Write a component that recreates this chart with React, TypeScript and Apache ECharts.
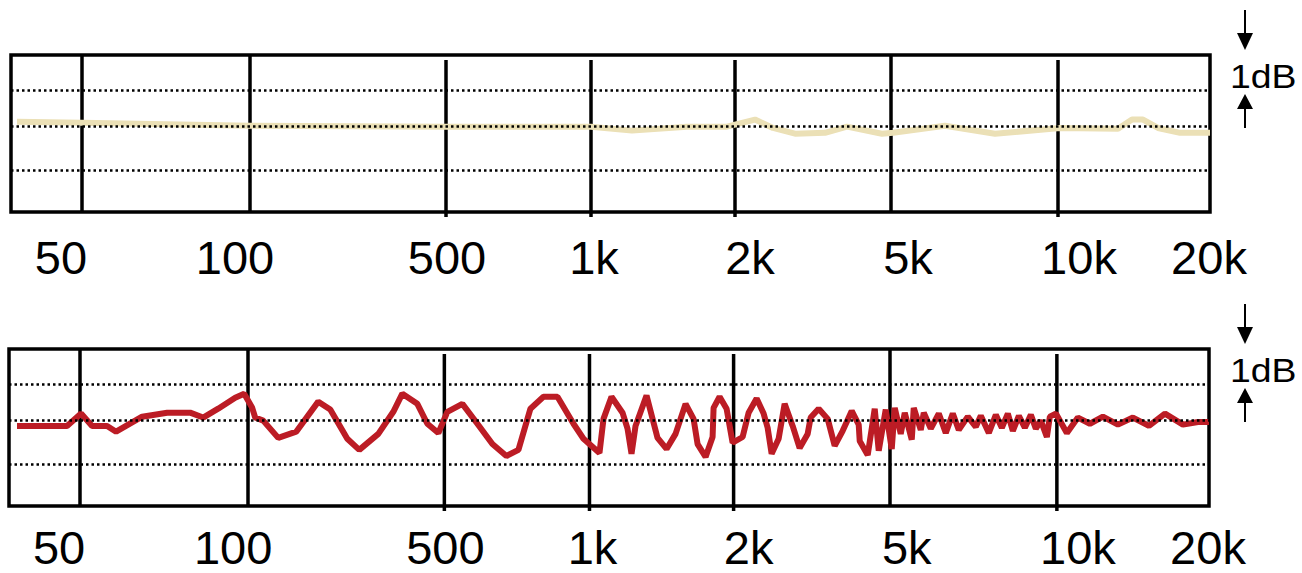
import React, { useEffect, useRef } from "react";
import * as echarts from "echarts";

// Frequency tick labels and their places on the (non-logarithmic) display scale
const labelText = ["50", "100", "500", "1k", "2k", "5k", "10k", "20k"];
const labelPos = [50, 224, 436, 583, 739, 897, 1068, 1198];
// Vertical grid lines (50 … 10k) on the same display scale
const gridPos = [71, 239, 435, 580, 724, 880, 1047];
const gridDropped = [false, false, true, true, true, false, true];
// Horizontal dotted reference levels (dB)
const levelLines = [0.8, 0, -1];

// Upper trace (beige): display position, level in dB
const topPos = [6, 71, 239, 435, 580, 621, 676, 716, 744, 762, 784, 814, 836, 871, 882, 934, 984, 1049, 1107, 1121, 1132, 1147, 1169, 1199];
const topDb = [0.09, 0.07, 0, -0.02, -0.02, -0.11, -0.02, -0.02, 0.14, -0.05, -0.18, -0.16, -0.02, -0.18, -0.16, 0, -0.18, -0.05, -0.07, 0.14, 0.14, -0.05, -0.16, -0.16];

// Lower trace (red): display position, level in dB
const botPos = [8, 58, 72, 83, 98, 107, 133, 158, 181, 194, 209, 226, 235, 243, 246, 254, 269, 287, 309, 321, 338, 350, 369, 384, 393, 408, 418, 429, 438, 453, 468, 483, 497, 509, 521, 534, 548, 564, 574, 590, 594, 602, 613, 618, 622, 626, 637, 641, 648, 657, 666, 676, 684, 688, 696, 703, 704, 710, 717, 723, 733, 739, 747, 754, 758, 762, 769, 775, 783, 790, 798, 801, 809, 818, 825, 833, 842, 849, 850, 858, 865, 869, 876, 882, 885, 891, 895, 902, 904, 911, 914, 921, 929, 936, 943, 949, 958, 966, 971, 979, 986, 992, 998, 1003, 1009, 1015, 1021, 1026, 1031, 1037, 1040, 1046, 1057, 1068, 1080, 1093, 1108, 1123, 1139, 1155, 1173, 1188, 1199];
const botDb = [-0.14, -0.14, 0.14, -0.14, -0.14, -0.27, 0.07, 0.16, 0.16, 0.05, 0.25, 0.5, 0.59, 0.27, 0.05, -0.02, -0.41, -0.27, 0.41, 0.23, -0.43, -0.68, -0.32, 0.18, 0.59, 0.36, -0.09, -0.3, 0.18, 0.36, -0.09, -0.55, -0.82, -0.68, 0.25, 0.52, 0.52, -0.09, -0.43, -0.75, 0.02, 0.52, 0.16, -0.2, -0.77, -0.14, 0.55, 0.2, -0.41, -0.66, -0.32, 0.36, 0.02, -0.55, -0.84, -0.39, 0.27, 0.52, 0.25, -0.52, -0.39, 0.16, 0.48, 0.14, -0.18, -0.77, -0.43, 0.36, -0.14, -0.64, -0.32, 0.05, 0.25, 0.02, -0.59, -0.25, 0.2, -0.11, -0.48, -0.8, 0.25, -0.7, 0.23, -0.66, 0.27, -0.32, 0.16, -0.45, 0.27, -0.23, 0.16, -0.2, 0.14, -0.3, 0.14, -0.23, 0.07, -0.16, 0.09, -0.3, 0.11, -0.18, 0.14, -0.25, 0.09, -0.18, 0.11, -0.2, -0.02, -0.39, 0.07, 0.14, -0.3, 0.05, -0.09, 0.07, -0.11, 0.05, -0.14, 0.14, -0.11, -0.05, -0.05];

const Y_MIN = -1.95;
const Y_MAX = 1.6;
const X_MAX = 1199;
const DROP = 5; // some grid lines sit a few pixels lower than the frame
const FONT = "'Liberation Sans', Arial, Helvetica, sans-serif";

function zip(xs: number[], ys: number[]) {
  return xs.map((x, i) => [x, ys[i]]);
}

function panel(idx: number, color: string, data: number[][]) {
  return [
    {
      type: "line",
      xAxisIndex: idx,
      yAxisIndex: idx,
      data: [],
      silent: true,
      clip: false,
      markLine: {
        z: 1,
        silent: true,
        symbol: ["none", "none"],
        label: { show: false },
        lineStyle: { color: "#000", width: 3.5, type: "solid" },
        emphasis: { disabled: true },
        data: gridPos.filter((_, i) => !gridDropped[i]).map((p) => ({ xAxis: p })),
      },
    },
    {
      type: "line",
      xAxisIndex: idx,
      yAxisIndex: idx,
      data,
      z: 3,
      symbol: "none",
      showSymbol: false,
      silent: true,
      clip: false,
      lineStyle: { color, width: 6 },
      markLine: {
        z: 5,
        silent: true,
        symbol: ["none", "none"],
        label: { show: false },
        lineStyle: { color: "#000", width: 2.5, type: [2.5, 3] },
        emphasis: { disabled: true },
        data: levelLines.map((v) => ({ yAxis: v })),
      },
    },
  ];
}

function xAxis(idx: number, margin: number) {
  return {
    type: "value",
    gridIndex: idx,
    min: 0,
    max: X_MAX,
    axisLine: { show: false },
    axisTick: { show: false },
    splitLine: { show: false },
    axisLabel: {
      customValues: labelPos,
      formatter: (v: number) => {
        const i = labelPos.indexOf(Number(v));
        return i >= 0 ? labelText[i] : "";
      },
      fontFamily: FONT,
      fontSize: 47,
      lineHeight: 40,
      color: "#000",
      margin,
    },
  };
}

function yAxis(idx: number) {
  return {
    type: "value",
    gridIndex: idx,
    min: Y_MIN,
    max: Y_MAX,
    axisLine: { show: false },
    axisTick: { show: false },
    splitLine: { show: false },
    axisLabel: { show: false },
  };
}

function dbMarker(offset: number) {
  const arrow = { stroke: "#000", lineWidth: 2 };
  return [
    { type: "line", shape: { x1: 1245, y1: 10 + offset, x2: 1245, y2: 36 + offset }, style: arrow },
    { type: "polygon", shape: { points: [[1237, 33 + offset], [1253, 33 + offset], [1245, 50 + offset]] }, style: { fill: "#000" } },
    { type: "polygon", shape: { points: [[1245, 94 + offset], [1237, 109 + offset], [1253, 109 + offset]] }, style: { fill: "#000" } },
    { type: "line", shape: { x1: 1245, y1: 106 + offset, x2: 1245, y2: 128 + offset }, style: arrow },
    {
      type: "text",
      x: 1230,
      y: 76.5 + offset,
      scaleX: 1.1,
      style: {
        text: "1dB",
        font: `34px ${FONT}`,
        fill: "#000",
        textAlign: "left",
        textVerticalAlign: "middle",
      },
    },
  ];
}

export default function App() {
  const ref = useRef<HTMLDivElement>(null);
  useEffect(() => {
    if (!ref.current) return;
    const chart = echarts.init(ref.current, undefined, { renderer: "svg" });
    chart.setOption({
      animation: false,
      backgroundColor: "#fff",
      grid: [
        { left: 11, right: 92, top: 55, height: 157, show: true, borderColor: "#000", borderWidth: 3.5, backgroundColor: "transparent" },
        { left: 9, right: 93, top: 349, height: 157, show: true, borderColor: "#000", borderWidth: 3.5, backgroundColor: "transparent" },
      ],
      xAxis: [xAxis(0, 25), xAxis(1, 21)],
      yAxis: [yAxis(0), yAxis(1)],
      series: [
        ...panel(0, "#EBE0B6", zip(topPos, topDb)),
        ...panel(1, "#BC1C25", zip(botPos, botDb)),
      ],
      graphic: [...dbMarker(0), ...dbMarker(294)],
    });

    // Grid lines that sit slightly lower than the frame, placed via the axes' own scales
    const dropped: any[] = [];
    [0, 1].forEach((gi) => {
      gridPos.forEach((p, i) => {
        if (!gridDropped[i]) return;
        const a = chart.convertToPixel({ gridIndex: gi }, [p, Y_MAX]) as number[];
        const b = chart.convertToPixel({ gridIndex: gi }, [p, Y_MIN]) as number[];
        dropped.push({
          type: "line",
          z: 1,
          shape: { x1: a[0], y1: a[1] + DROP, x2: b[0], y2: b[1] + DROP },
          style: { stroke: "#000", lineWidth: 3.5 },
        });
      });
    });
    chart.setOption({ graphic: [...dbMarker(0), ...dbMarker(294), ...dropped] });
    return () => chart.dispose();
  }, []);
  return (
    <div
      ref={ref}
      style={{ position: "fixed", left: 0, top: 0, width: 1302, height: 573, background: "#fff" }}
    />
  );
}
